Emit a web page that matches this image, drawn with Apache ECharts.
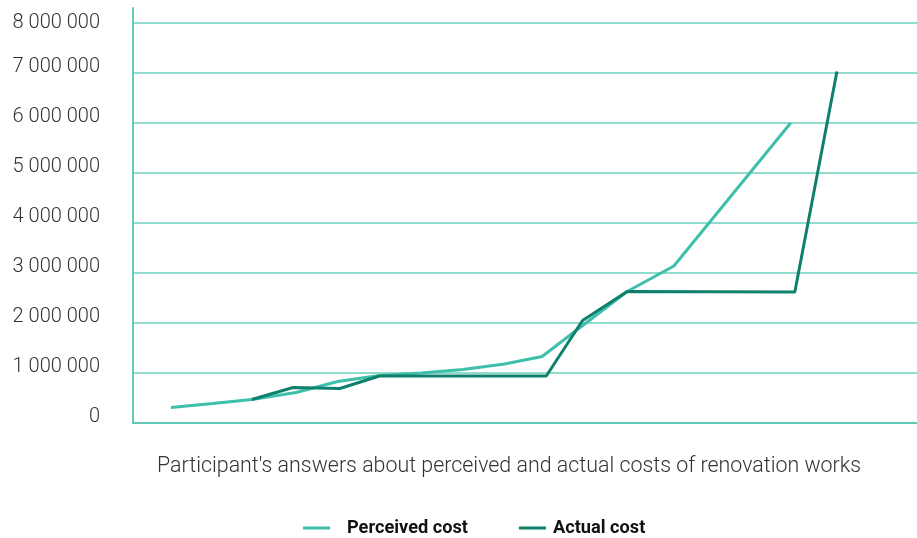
<!DOCTYPE html>
<html>
<head>
<meta charset="utf-8">
<script src="https://cdn.jsdelivr.net/npm/echarts@6/dist/echarts.min.js"></script>
<style>
html,body{margin:0;padding:0;background:#fff;}
#c{width:917px;height:538px;}
</style>
</head>
<body>
<div id="c"></div>
<script>
// Data (x = participant position along the axis, y = cost)
const perceivedX = [1, 2, 2.94, 4, 5, 6, 7, 8, 9, 9.9, 11.94, 13.06, 15.86];
const perceivedY = [310000, 390000, 470000, 610000, 830000, 950000, 1000000, 1070000, 1180000, 1330000, 2630000, 3140000, 6000000];
const actualX = [2.94, 3.93, 5.05, 6, 10, 10.87, 11.94, 15.96, 16.97];
const actualY = [470000, 710000, 690000, 940000, 940000, 2050000, 2630000, 2620000, 7030000];
const yTicks = [0, 1000000, 2000000, 3000000, 4000000, 5000000, 6000000, 7000000, 8000000];
const seriesNames = ['Perceived cost', 'Actual cost'];
const titleText = "Participant's answers about perceived and actual costs of renovation works";

const LIGHT = '#3dbfab';
const DARK = '#0e806b';
const GRID = '#93dbcf';
const AXIS = '#62c8b8';

function fmt(v) {
  return String(v).replace(/\B(?=(\d{3})+(?!\d))/g, ' ');
}
function pairs(xs, ys) { return xs.map((x, i) => [x, ys[i]]); }

const legendFont = {fontFamily: 'Roboto', fontWeight: 'bold', fontSize: 18.2, color: '#111'};

const chart = echarts.init(document.getElementById('c'), null, {renderer: 'canvas'});
chart.setOption({
  animation: false,
  backgroundColor: '#fff',
  title: {
    text: titleText,
    left: 152,
    top: 451,
    textStyle: {fontFamily: 'Roboto', fontWeight: 300, fontSize: 21.4, color: '#333'}
  },
  legend: {
    data: [
      {name: seriesNames[0], textStyle: Object.assign({}, legendFont, {padding: [0, 0, 0, 12]})},
      {name: seriesNames[1], textStyle: Object.assign({}, legendFont, {padding: [0, 0, 0, 2]})}
    ],
    left: 303,
    top: 519,
    padding: 0,
    icon: 'rect',
    itemWidth: 27,
    itemHeight: 3,
    itemGap: 51,
    textStyle: legendFont
  },
  grid: {left: 133, right: 0, top: 8, bottom: 115, containLabel: false},
  xAxis: {
    type: 'value',
    min: 0.09,
    max: 18.89,
    axisLine: {show: true, lineStyle: {color: AXIS, width: 2}},
    axisTick: {show: false},
    axisLabel: {show: false},
    splitLine: {show: false}
  },
  yAxis: {
    type: 'value',
    min: 0,
    max: 8300000,
    interval: 1000000,
    axisLine: {show: true, lineStyle: {color: AXIS, width: 2}},
    axisTick: {show: false},
    splitLine: {show: true, showMaxLine: false, showMinLine: false, lineStyle: {color: GRID, width: 2}},
    axisLabel: {
      showMaxLabel: false,
      margin: 33,
      fontFamily: 'Roboto',
      fontWeight: 300,
      fontSize: 20,
      color: '#333',
      formatter: function (v) {
        if (yTicks.indexOf(v) < 0) return '';
        if (v === yTicks[yTicks.length - 1]) return '{t|' + fmt(v) + '}';
        return '{n|' + fmt(v) + '}';
      },
      rich: {
        n: {fontFamily: 'Roboto', fontWeight: 300, fontSize: 20, color: '#333', padding: [0, 0, 13, 0]},
        t: {fontFamily: 'Roboto', fontWeight: 300, fontSize: 20, color: '#333', padding: [0, 0, 0, 0]}
      }
    }
  },
  series: [
    {
      name: seriesNames[0],
      type: 'line',
      data: pairs(perceivedX, perceivedY),
      showSymbol: false,
      symbol: 'none',
      lineStyle: {color: LIGHT, width: 3},
      itemStyle: {color: LIGHT},
      z: 2
    },
    {
      name: seriesNames[1],
      type: 'line',
      data: pairs(actualX, actualY),
      showSymbol: false,
      symbol: 'none',
      lineStyle: {color: DARK, width: 3},
      itemStyle: {color: DARK},
      z: 3
    }
  ]
});
</script>
</body>
</html>
